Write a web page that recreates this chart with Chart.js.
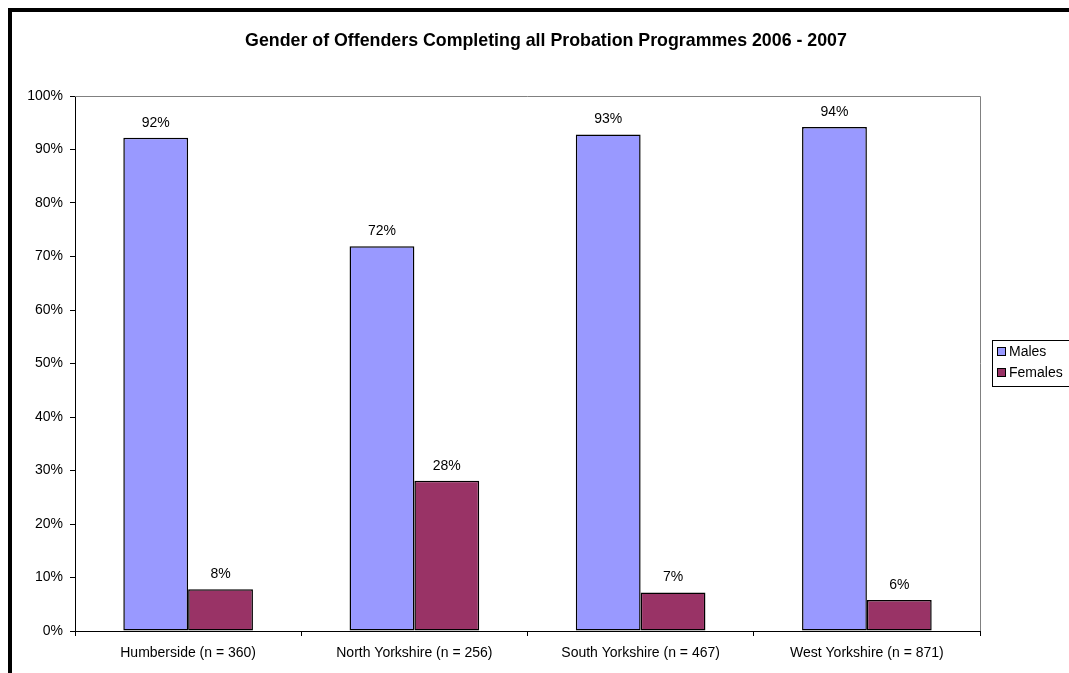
<!DOCTYPE html>
<html>
<head>
<meta charset="utf-8">
<script src="https://cdn.jsdelivr.net/npm/chart.js@4/dist/chart.umd.min.js"></script>
<style>
  html, body { margin: 0; padding: 0; background: #fff; overflow: hidden; }
  #wrap { width: 1069px; height: 673px; position: relative; }
</style>
</head>
<body>
<div id="wrap"><canvas id="myChart" width="1069" height="673"></canvas></div>
<script>
var regions = ["Humberside (n = 360)", "North Yorkshire (n = 256)", "South Yorkshire (n = 467)", "West Yorkshire (n = 871)"];
var males = [92.2, 71.9, 92.8, 94.2];
var females = [7.8, 28.1, 7.2, 5.8];
var seriesNames = ["Males", "Females"];
var seriesColors = ["#9999FF", "#993366"];
var titleText = "Gender of Offenders Completing all Probation Programmes 2006 - 2007";

var font = "Arial, 'Liberation Sans', sans-serif";

// frame, title, plot border, value labels and legend
var extras = {
  id: "extras",
  beforeDraw: function (chart) {
    var c = chart.ctx;
    c.save();
    c.fillStyle = "#fff";
    c.fillRect(0, 0, chart.width, chart.height);
    c.fillStyle = "#000";
    c.fillRect(8, 8, chart.width, 4);
    c.fillRect(8, 8, 4, chart.height);
    c.restore();
  },
  afterDraw: function (chart) {
    var c = chart.ctx;
    var a = chart.chartArea;
    c.save();
    // plot area border (top/right)
    c.strokeStyle = "#808080";
    c.lineWidth = 1;
    c.beginPath();
    c.moveTo(a.left, a.top + 0.5);
    c.lineTo(a.right + 0.5, a.top + 0.5);
    c.lineTo(a.right + 0.5, a.bottom);
    c.stroke();

    // title
    c.fillStyle = "#000";
    c.font = "bold 17.8px " + font;
    c.textAlign = "center";
    c.textBaseline = "middle";
    c.fillText(titleText, 546, 41);

    // value labels
    c.font = "14px " + font;
    c.textBaseline = "middle";
    chart.data.datasets.forEach(function (ds, i) {
      chart.getDatasetMeta(i).data.forEach(function (bar, j) {
        c.fillText(Math.round(ds.data[j]) + "%", bar.x, bar.y - 15);
      });
    });

    // legend
    c.fillStyle = "#fff";
    c.fillRect(992, 340, 90, 46);
    c.strokeStyle = "#000";
    c.strokeRect(992.5, 340.5, 90, 46);
    c.textAlign = "left";
    c.textBaseline = "middle";
    seriesNames.forEach(function (name, i) {
      var y = 352 + i * 21;
      c.fillStyle = seriesColors[i];
      c.fillRect(997, y - 5, 9, 9);
      c.strokeStyle = "#000";
      c.strokeRect(997.5, y - 4.5, 8, 8);
      c.fillStyle = "#000";
      c.fillText(name, 1009, y);
    });
    c.restore();
  }
};

const ctx = document.getElementById("myChart");
new Chart(ctx, {
  type: "bar",
  data: {
    labels: regions,
    datasets: [
      {
        label: seriesNames[0],
        data: males,
        backgroundColor: seriesColors[0],
        borderColor: "#000",
        borderWidth: 1.5,
        borderSkipped: false,
        categoryPercentage: 0.573,
        barPercentage: 1.0,
      },
      {
        label: seriesNames[1],
        data: females,
        backgroundColor: seriesColors[1],
        borderColor: "#000",
        borderWidth: 1.5,
        borderSkipped: false,
        categoryPercentage: 0.573,
        barPercentage: 1.0,
      },
    ],
  },
  options: {
    responsive: false,
    animation: false,
    layout: { padding: { left: 0, top: 96, right: 89, bottom: 0 } },
    plugins: {
      legend: { display: false },
      title: { display: false },
      tooltip: { enabled: false },
    },
    scales: {
      x: {
        grid: { display: true, drawOnChartArea: false, drawTicks: true, tickLength: 5, color: "#000", offset: true },
        border: { color: "#000", width: 1 },
        ticks: { color: "#000", font: { size: 14, family: font }, padding: 9, maxRotation: 0 },
        afterFit: function (s) { s.height = 42; },
      },
      y: {
        min: 0,
        max: 100,
        grid: { display: true, drawOnChartArea: false, drawTicks: true, tickLength: 5, color: "#000" },
        border: { color: "#000", width: 1 },
        ticks: {
          stepSize: 10,
          color: "#000",
          font: { size: 14, family: font },
          padding: 7,
          callback: function (v) { return v + "%"; },
        },
        afterFit: function (s) { s.width = 75; },
      },
    },
  },
  plugins: [extras],
});
</script>
</body>
</html>
